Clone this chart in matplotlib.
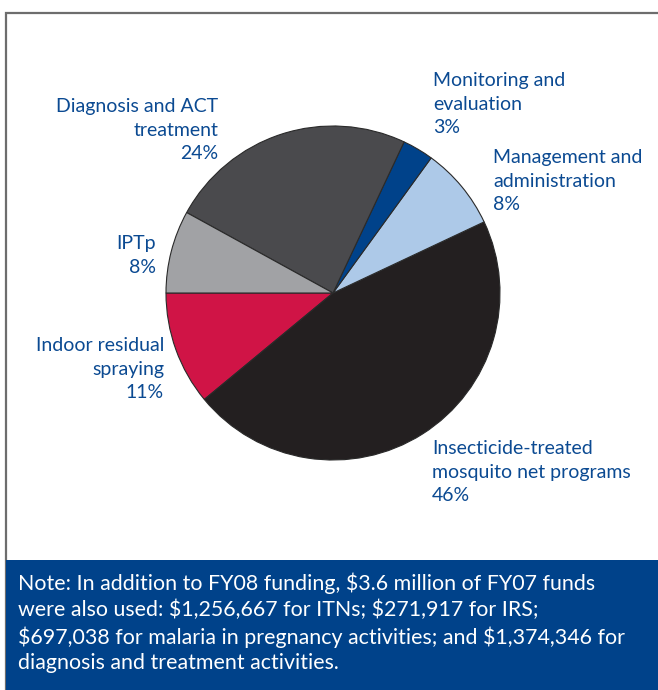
import matplotlib
matplotlib.use("Agg")
import matplotlib.pyplot as plt
from matplotlib.patches import Rectangle

# ============ Data ============
categories = [
    "Indoor residual\nspraying",
    "Insecticide-treated\nmosquito net programs",
    "Management and\nadministration",
    "Monitoring and\nevaluation",
    "Diagnosis and ACT\ntreatment",
    "IPTp",
]
shares = [11, 46, 8, 3, 24, 8]
colors = ["#d01446", "#231f20", "#adc9e8", "#00428a", "#4a4a4d", "#a1a2a5"]

note = (r"Note: In addition to FY08 funding, \$3.6 million of FY07 funds" "\n"
        r"were also used: \$1,256,667 for ITNs; \$271,917 for IRS;" "\n"
        r"\$697,038 for malaria in pregnancy activities; and \$1,374,346 for" "\n"
        "diagnosis and treatment activities.")

# label anchor (pixels, first line centre) and alignment, same order as categories
label_pos = [(164, 345, "right"), (432, 448, "left"), (493, 157, "left"),
             (433, 80, "left"), (218, 106, "right"), (156, 243, "right")]

text_blue = "#0b4a92"
plt.rcParams["font.family"] = ["Lato", "DejaVu Sans"]

W, H = 658, 690
fig = plt.figure(figsize=(W / 100, H / 100), dpi=100)

# overlay axes in pixel coords
bg = fig.add_axes([0, 0, 1, 1])
bg.set_xlim(0, W)
bg.set_ylim(H, 0)
bg.axis("off")
bg.add_patch(Rectangle((6, 13), W, H, facecolor="white", edgecolor="#6d6d6d", lw=1.6))
bg.add_patch(Rectangle((6, 560), W, 140, facecolor="#00428a", edgecolor="none"))
bg.text(18, 572, note, color="white", fontsize=15.4, va="top", ha="left", linespacing=1.36)

for cat, val, (x, y, ha) in zip(categories, shares, label_pos):
    bg.text(x, y - 8, f"{cat}\n{val}%", color=text_blue, fontsize=14,
            ha=ha, va="top", multialignment=ha, linespacing=1.48)

# ============ Pie ============
cx, cy, r = 333, 293, 167
ax = fig.add_axes([(cx - r) / W, (H - cy - r) / H, 2 * r / W, 2 * r / H])
ax.pie(shares, colors=colors, startangle=180, counterclock=True,
       wedgeprops=dict(edgecolor="#2a2a2a", linewidth=0.8))
ax.set_xlim(-1, 1)
ax.set_ylim(-1, 1)
ax.set_aspect("auto")
ax.axis("off")

fig.savefig("out.png", dpi=100)
